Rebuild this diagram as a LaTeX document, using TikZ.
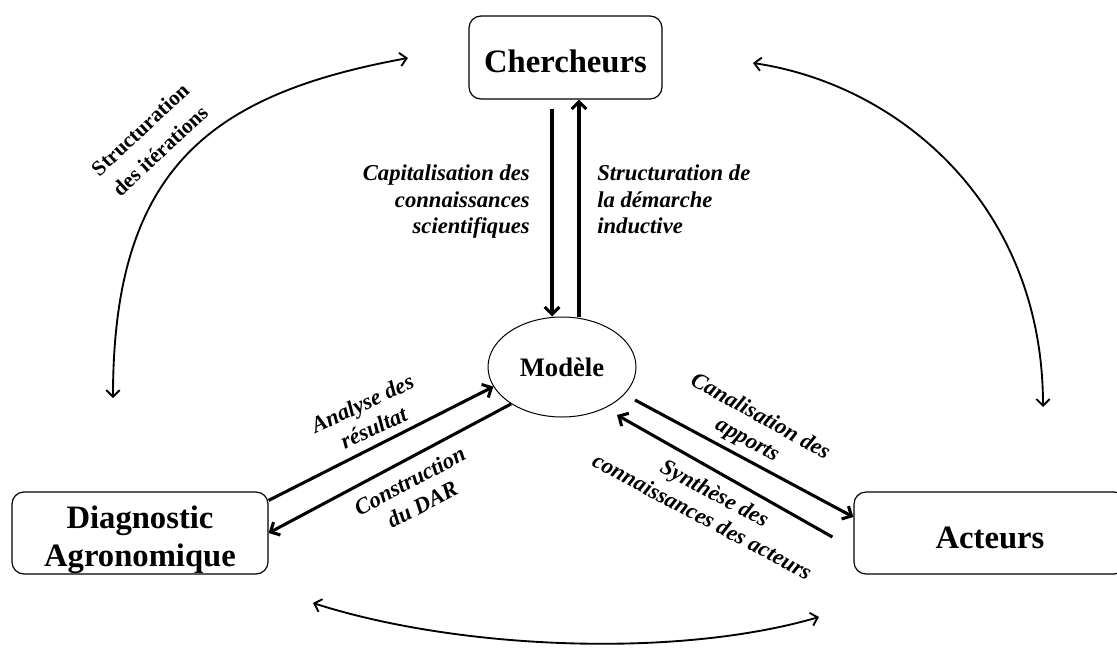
\documentclass[tikz,border=0pt]{standalone}
\usepackage{fontspec}
\setmainfont{Liberation Serif}
\usetikzlibrary{arrows.meta,shapes.geometric,calc}
\begin{document}
\begin{tikzpicture}[x=0.75pt,y=-0.75pt,
  box/.style={draw,line width=0.9pt,rounded corners=9pt,inner sep=0pt,
    font=\bfseries\fontsize{24.5}{29}\selectfont},
  conn/.style={line width=2.3pt,-{Straight Barb[length=5.5pt,width=11pt]}},
  curv/.style={line width=1.4pt,{Straight Barb[length=5pt,width=10pt]}-{Straight Barb[length=5pt,width=10pt]}},
  lab/.style={font=\bfseries\itshape\fontsize{17}{20}\selectfont,inner sep=0pt},
  rlab/.style={lab,align=center},
  ulab/.style={font=\bfseries\fontsize{16}{22}\selectfont,inner sep=0pt,align=center}]
\useasboundingbox (0,0) rectangle (1117,650);

% main nodes
\node[box,minimum width=144.75pt,minimum height=62.25pt,text height=21.8pt,text depth=0pt] (cher) at (565.5,57.5) {Chercheurs};
\node[box,minimum width=192pt,minimum height=61.5pt,text height=10pt,text depth=17.5pt] (diag) at (140,533)
  {\begin{tabular}[t]{@{}c@{}}Diagnostic\\Agronomique\end{tabular}};
\node[box,minimum width=204pt,minimum height=61.5pt,text height=22.5pt,text depth=0pt] (act) at (990,533) {Acteurs};
\node[draw,ellipse,line width=0.75pt,minimum width=111pt,minimum height=75pt,inner sep=0pt,
  font=\bfseries\fontsize{20}{24}\selectfont] (mod) at (562,367) {Modèle};

% vertical pair
\draw[conn] ([xshift=-10.125pt,yshift=-6.75pt]cher.south) -- ([xshift=-7.5pt]mod.north);
\draw[conn] ([xshift=12.75pt]mod.north) -- ([xshift=10.125pt]cher.south);

% left pair
\draw[conn] ([yshift=-6.75pt]diag.north east) -- (mod.196.6);
\draw[conn] (mod.216.2) -- (diag.east);

% right pair
\draw[conn] ($(mod.center)+(73,33)$) -- ([yshift=12pt]act.west);
\draw[conn] ([xshift=-15.75pt,yshift=-3pt]act.west) -- ($(mod.center)+(55,48)$);

% curved double arrows
\coordinate (tla) at (408,58);
\coordinate (tlb) at (113,398);
\coordinate (tra) at (753,63);
\coordinate (trb) at (1043,407);
\coordinate (bla) at (313,603);
\coordinate (blb) at (819,617);
\draw[curv] (tlb) .. controls (113,168) and (211,94) .. (tla);
\draw[curv] (tra) .. controls (901,85) and (1043,207) .. (trb);
\draw[curv] (bla) .. controls (456,649) and (675,659) .. (blb);

% labels
\node[lab,align=right,anchor=north east] (lcap) at (530,164.5)
  {Capitalisation des\\connaissances\\scientifiques};
\node[lab,align=left,anchor=north west] (lstr) at (597,164.5)
  {Structuration de\\la démarche\\inductive};
\node[ulab,rotate=43] (lsi) at (150,140) {Structuration\\des itérations};
\node[rlab,rotate=25] (lana) at (368,415.5) {Analyse des\\résultat};
\node[rlab,rotate=28] (lcon) at (416,492.5) {Construction\\du DAR};
\node[rlab,rotate=-29] (lcan) at (753.5,429) {Canalisation des\\apports};
\node[rlab,rotate=-28] (lsyn) at (708.7,504.6) {Synthèse des\\connaissances des acteurs};
\end{tikzpicture}
\end{document}
